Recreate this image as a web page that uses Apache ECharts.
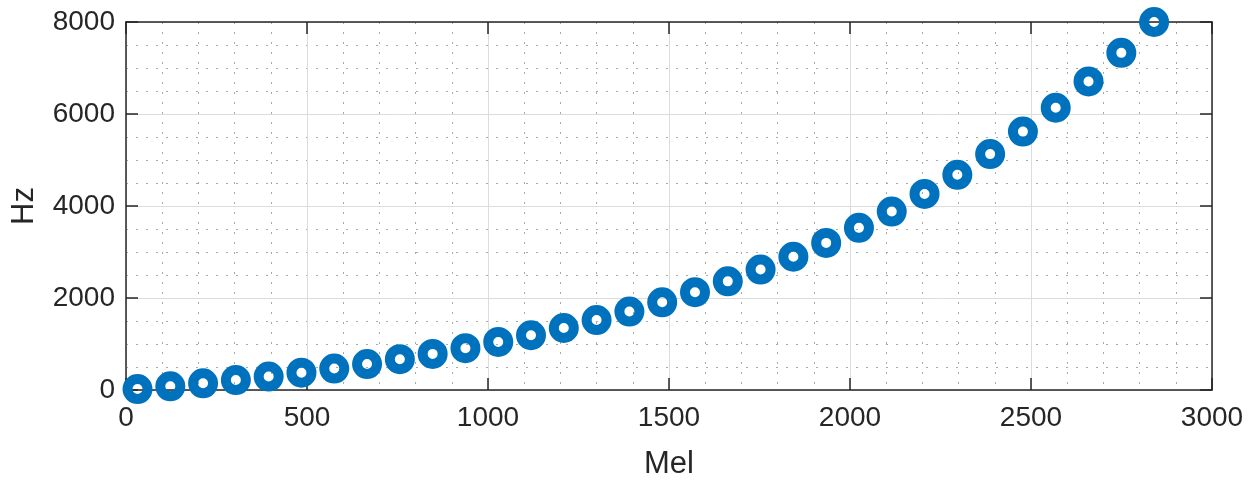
<!DOCTYPE html>
<html>
<head>
<meta charset="utf-8">
<script src="https://cdn.jsdelivr.net/npm/echarts@6/dist/echarts.min.js"></script>
<style>
  html, body { margin: 0; padding: 0; background: #fff; }
  #chart { width: 1257px; height: 481px; }
</style>
</head>
<body>
<div id="chart"></div>
<script>
// Mel-spaced filter centre points: position on the mel scale and the matching frequency in Hz
const melValues = [31.8, 122.4, 212.9, 303.5, 394.1, 484.7, 575.3, 665.9, 756.5, 847.1,
  937.7, 1028.3, 1118.8, 1209.4, 1300.0, 1390.6, 1481.2, 1571.8, 1662.4, 1753.0,
  1843.6, 1934.2, 2024.7, 2115.3, 2205.9, 2296.5, 2387.1, 2477.7, 2568.3, 2658.9,
  2749.5, 2840.0];
const hzValues = [20, 80, 146, 216, 293, 376, 466, 564, 670, 785,
  909, 1044, 1190, 1348, 1520, 1706, 1907, 2126, 2362, 2619,
  2897, 3198, 3525, 3879, 4262, 4678, 5128, 5617, 6136, 6708,
  7329, 8000];

const xTicks = [0, 500, 1000, 1500, 2000, 2500, 3000];
const yTicks = [0, 2000, 4000, 6000, 8000];

const points = melValues.map((m, i) => [m, hzValues[i]]);

const FONT = '"Liberation Sans", Arial, Helvetica, sans-serif';
const INK = '#262626';

// Thick open-circle marker: outer disc with an inner hole of opposite winding
const RING = 'path://M0,-15A15,15 0 1,1 0,15A15,15 0 1,1 0,-15Z' +
             'M0,-5A5,5 0 1,0 0,5A5,5 0 1,0 0,-5Z';

function baseAxis(extra) {
  return Object.assign({
    type: 'value',
    axisLine: { show: true, onZero: false, lineStyle: { color: INK, width: 1.5 } },
    axisTick: { show: true, inside: true, length: 12, lineStyle: { color: INK, width: 1.5 } },
    minorTick: { show: false },
    splitLine: { show: false },
    minorSplitLine: { show: false },
    axisLabel: { show: false }
  }, extra);
}

const gridLines = {
  splitLine: { show: true, lineStyle: { color: '#dcdcdc', width: 1 } },
  minorSplitLine: { show: true, lineStyle: { color: '#a8a8a8', width: 1, type: [2, 8] } }
};

const plainNumber = v => String(v);

const chart = echarts.init(document.getElementById('chart'), null, { renderer: 'canvas' });
chart.setOption({
  animation: false,
  backgroundColor: '#fff',
  textStyle: { fontFamily: FONT },
  grid: { left: 126, right: 45, top: 22, bottom: 91, outerBoundsMode: 'none', containLabel: false },
  xAxis: [
    baseAxis(Object.assign({
      position: 'bottom',
      min: xTicks[0], max: xTicks[xTicks.length - 1], interval: 500,
      axisLabel: { show: true, color: INK, fontSize: 28, margin: 14, fontFamily: FONT, formatter: plainNumber },
      name: 'Mel',
      nameLocation: 'middle',
      nameGap: 59,
      nameTextStyle: { color: INK, fontSize: 31, fontFamily: FONT }
    }, gridLines, { minorTick: { show: false, splitNumber: 5 } })),
    baseAxis({
      position: 'top',
      min: xTicks[0], max: xTicks[xTicks.length - 1], interval: 500
    })
  ],
  yAxis: [
    baseAxis(Object.assign({
      position: 'left',
      min: yTicks[0], max: yTicks[yTicks.length - 1], interval: 2000,
      axisLabel: { show: true, color: INK, fontSize: 28, margin: 11, fontFamily: FONT, formatter: plainNumber },
      name: 'Hz',
      nameLocation: 'middle',
      nameGap: 86,
      nameRotate: 90,
      nameTextStyle: { color: INK, fontSize: 31, fontFamily: FONT }
    }, gridLines, { minorTick: { show: false, splitNumber: 4 } })),
    baseAxis({
      position: 'right',
      min: yTicks[0], max: yTicks[yTicks.length - 1], interval: 2000
    })
  ],
  series: [{
    type: 'scatter',
    xAxisIndex: 0,
    yAxisIndex: 0,
    data: points,
    clip: false,
    symbol: RING,
    symbolSize: 30,
    itemStyle: { color: '#0072BD', opacity: 1 },
    emphasis: { disabled: true }
  }]
});
</script>
</body>
</html>
